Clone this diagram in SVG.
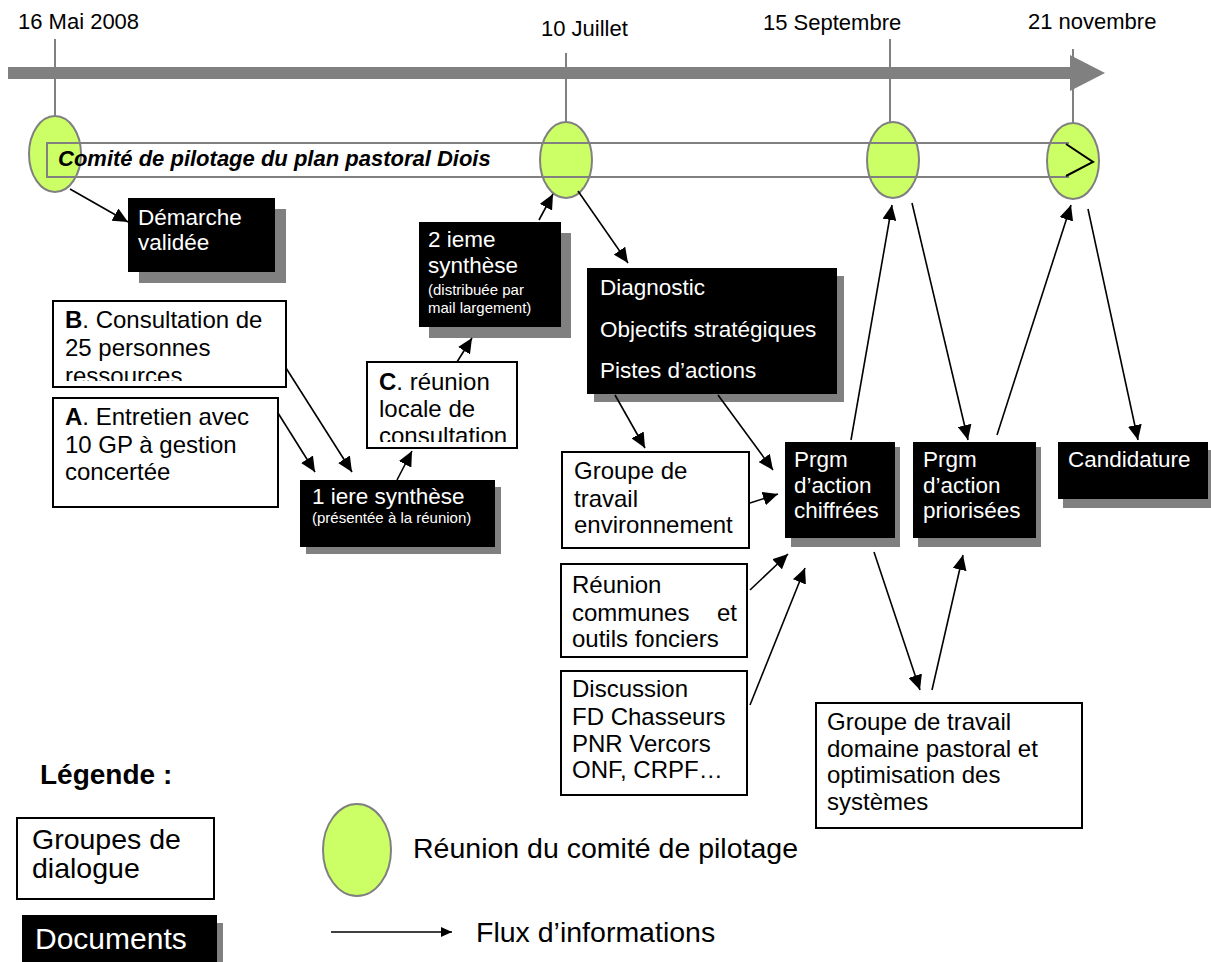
<svg xmlns="http://www.w3.org/2000/svg" width="1211" height="962" viewBox="0 0 1211 962">
<style>
text{font-family:"Liberation Sans",Arial,sans-serif;font-size:22px;fill:#000}
.w{fill:#fff;font-size:22.5px}
.g{font-size:24px}
.s{font-size:15px}
.doc{fill:#000}
.sh{fill:#808080}
.grp{fill:#fff;stroke:#000;stroke-width:2}
.ell{fill:#CCFF66;stroke:#808080;stroke-width:2}
.tick{stroke:#808080;stroke-width:2}
.con{stroke:#000;stroke-width:1.6;fill:none;marker-end:url(#ah)}
.lg{font-size:28.5px}
</style>
<defs>
<marker id="ah" markerUnits="userSpaceOnUse" markerWidth="16" markerHeight="14" refX="15" refY="7" orient="auto"><path d="M0,0 L15,7 L0,14 z" fill="#000"/></marker>
<marker id="ah2" markerUnits="userSpaceOnUse" markerWidth="12" markerHeight="10" refX="11" refY="5" orient="auto"><path d="M0,0 L11,5 L0,10 z" fill="#000"/></marker>
<clipPath id="clipB"><rect x="53" y="301" width="233" height="80"/></clipPath>
<clipPath id="clipC"><rect x="367" y="362" width="150" height="80"/></clipPath>
</defs>

<g id="timeline">
<rect x="8" y="67" width="1064" height="12" fill="#808080"/>
<polygon points="1070,55 1105,73 1070,91" fill="#808080"/>
<line class="tick" x1="55" y1="39" x2="55" y2="117"/>
<line class="tick" x1="566" y1="53" x2="566" y2="122"/>
<line class="tick" x1="890" y1="39" x2="890" y2="122"/>
<line class="tick" x1="1073" y1="49" x2="1073" y2="123"/>
<text x="18" y="29">16 Mai 2008</text>
<text x="541" y="36">10 Juillet</text>
<text x="763" y="30">15 Septembre</text>
<text x="1028" y="29">21 novembre</text>
</g>

<g id="meeting1"><ellipse class="ell" cx="55" cy="154" rx="26" ry="38"/></g>
<g id="meeting2"><ellipse class="ell" cx="566" cy="160" rx="26" ry="38"/></g>
<g id="meeting3"><ellipse class="ell" cx="893" cy="160" rx="26" ry="38"/></g>
<g id="meeting4"><ellipse class="ell" cx="1073" cy="161" rx="26" ry="38"/></g>

<g id="comite">
<path d="M1069,143 H47 V177 H1069" fill="none" stroke="#808080" stroke-width="2"/>
<polyline points="1066,144 1093,162 1066,176" fill="none" stroke="#000" stroke-width="2"/>
<text x="58" y="166" font-weight="bold" font-style="italic">Comité de pilotage du plan pastoral Diois</text>
</g>

<g id="demarche">
<rect class="sh" x="139" y="209" width="147" height="74"/>
<rect class="doc" x="128" y="198" width="147" height="74"/>
<text class="w" x="138" y="225">Démarche</text>
<text class="w" x="138" y="250">validée</text>
</g>

<g id="consultationB">
<rect class="grp" x="53" y="301" width="233" height="86"/>
<g clip-path="url(#clipB)">
<text class="g" x="65" y="328"><tspan font-weight="bold">B</tspan>. Consultation de</text>
<text class="g" x="65" y="356">25 personnes</text>
<text class="g" x="65" y="384">ressources</text>
</g>
</g>

<g id="entretienA">
<rect class="grp" x="53" y="398" width="225" height="109"/>
<text class="g" x="65" y="425"><tspan font-weight="bold">A</tspan>. Entretien avec</text>
<text class="g" x="65" y="453">10 GP à gestion</text>
<text class="g" x="65" y="480">concertée</text>
</g>

<g id="reunionC">
<rect class="grp" x="367" y="362" width="150" height="86"/>
<g clip-path="url(#clipC)">
<text class="g" x="379" y="390"><tspan font-weight="bold">C</tspan>. réunion</text>
<text class="g" x="379" y="417">locale de</text>
<text class="g" x="379" y="444">consultation</text>
</g>
</g>

<g id="synthese1">
<rect class="sh" x="306" y="487" width="195" height="67"/>
<rect class="doc" x="300" y="480" width="195" height="67"/>
<text class="w" x="312" y="504">1 iere synthèse</text>
<text class="w s" x="312" y="523">(présentée à la réunion)</text>
</g>

<g id="synthese2">
<rect class="sh" x="429" y="233" width="142" height="105"/>
<rect class="doc" x="419" y="222" width="142" height="105"/>
<text class="w" x="428" y="247">2 ieme</text>
<text class="w" x="428" y="273">synthèse</text>
<text class="w s" x="428" y="295">(distribuée par</text>
<text class="w s" x="428" y="313">mail largement)</text>
</g>

<g id="diagnostic">
<rect class="sh" x="594" y="276" width="250" height="126"/>
<rect class="doc" x="587" y="268" width="250" height="126"/>
<text class="w" x="600" y="295">Diagnostic</text>
<text class="w" x="600" y="337">Objectifs stratégiques</text>
<text class="w" x="600" y="378">Pistes d’actions</text>
</g>

<g id="groupeEnv">
<rect class="grp" x="562" y="452" width="187" height="96"/>
<text class="g" x="574" y="479">Groupe de</text>
<text class="g" x="574" y="507">travail</text>
<text class="g" x="574" y="533">environnement</text>
</g>

<g id="reunionCommunes">
<rect class="grp" x="561" y="564" width="186" height="93"/>
<text class="g" x="572" y="593">Réunion</text>
<text class="g" x="572" y="621">communes</text>
<text class="g" x="737" y="621" text-anchor="end">et</text>
<text class="g" x="572" y="647">outils fonciers</text>
</g>

<g id="discussion">
<rect class="grp" x="561" y="671" width="186" height="124"/>
<text class="g" x="572" y="697">Discussion</text>
<text class="g" x="572" y="725">FD Chasseurs</text>
<text class="g" x="572" y="752">PNR Vercors</text>
<text class="g" x="572" y="778">ONF, CRPF…</text>
</g>

<g id="prgmChiffrees">
<rect class="sh" x="791" y="447" width="109" height="100"/>
<rect class="doc" x="785" y="442" width="110" height="96"/>
<text class="w" x="794" y="467">Prgm</text>
<text class="w" x="794" y="493">d’action</text>
<text class="w" x="794" y="518">chiffrées</text>
</g>

<g id="prgmPriorisees">
<rect class="sh" x="918" y="447" width="123" height="100"/>
<rect class="doc" x="913" y="442" width="123" height="96"/>
<text class="w" x="923" y="467">Prgm</text>
<text class="w" x="923" y="493">d’action</text>
<text class="w" x="923" y="518">priorisées</text>
</g>

<g id="candidature">
<rect class="sh" x="1063" y="450" width="150" height="58"/>
<rect class="doc" x="1058" y="442" width="150" height="57"/>
<text class="w" x="1068" y="467">Candidature</text>
</g>

<g id="groupePastoral">
<rect class="grp" x="816" y="703" width="266" height="125"/>
<text class="g" x="827" y="730">Groupe de travail</text>
<text class="g" x="827" y="757">domaine pastoral et</text>
<text class="g" x="827" y="783">optimisation des</text>
<text class="g" x="827" y="810">systèmes</text>
</g>

<g id="connectors">
<line class="con" x1="70" y1="189" x2="128" y2="222"/>
<line class="con" x1="539" y1="220" x2="553" y2="194"/>
<line class="con" x1="457" y1="362" x2="472" y2="338"/>
<line class="con" x1="397" y1="480" x2="412" y2="451"/>
<line class="con" x1="286" y1="368" x2="352" y2="472"/>
<line class="con" x1="278" y1="413" x2="315" y2="472"/>
<line class="con" x1="578" y1="191" x2="628" y2="263"/>
<line class="con" x1="615" y1="395" x2="645" y2="448"/>
<line class="con" x1="718" y1="395" x2="773" y2="470"/>
<line class="con" x1="750" y1="503" x2="778" y2="494"/>
<line class="con" x1="750" y1="590" x2="788" y2="554"/>
<line class="con" x1="750" y1="705" x2="805" y2="568"/>
<line class="con" x1="851" y1="440" x2="892" y2="205"/>
<line class="con" x1="912" y1="203" x2="968" y2="440"/>
<line class="con" x1="997" y1="435" x2="1071" y2="205"/>
<line class="con" x1="1088" y1="209" x2="1138" y2="440"/>
<line class="con" x1="874" y1="552" x2="920" y2="690"/>
<line class="con" x1="932" y1="690" x2="963" y2="555"/>
</g>

<g id="legend">
<text x="40" y="784" style="font-size:28px;font-weight:bold">Légende :</text>
<rect class="grp" x="17" y="818" width="197" height="81"/>
<text class="lg" x="32" y="849">Groupes de</text>
<text class="lg" x="32" y="878">dialogue</text>
<rect class="sh" x="28" y="923" width="195" height="39"/>
<rect class="doc" x="22" y="915" width="195" height="47"/>
<text class="w" x="35" y="949" style="font-size:30px">Documents</text>
<ellipse class="ell" cx="357" cy="850" rx="34" ry="46"/>
<text class="lg" x="413" y="858">Réunion du comité de pilotage</text>
<line x1="331" y1="932" x2="452" y2="932" stroke="#000" stroke-width="1.6" marker-end="url(#ah2)"/>
<text class="lg" x="476" y="942">Flux d’informations</text>
</g>
</svg>
